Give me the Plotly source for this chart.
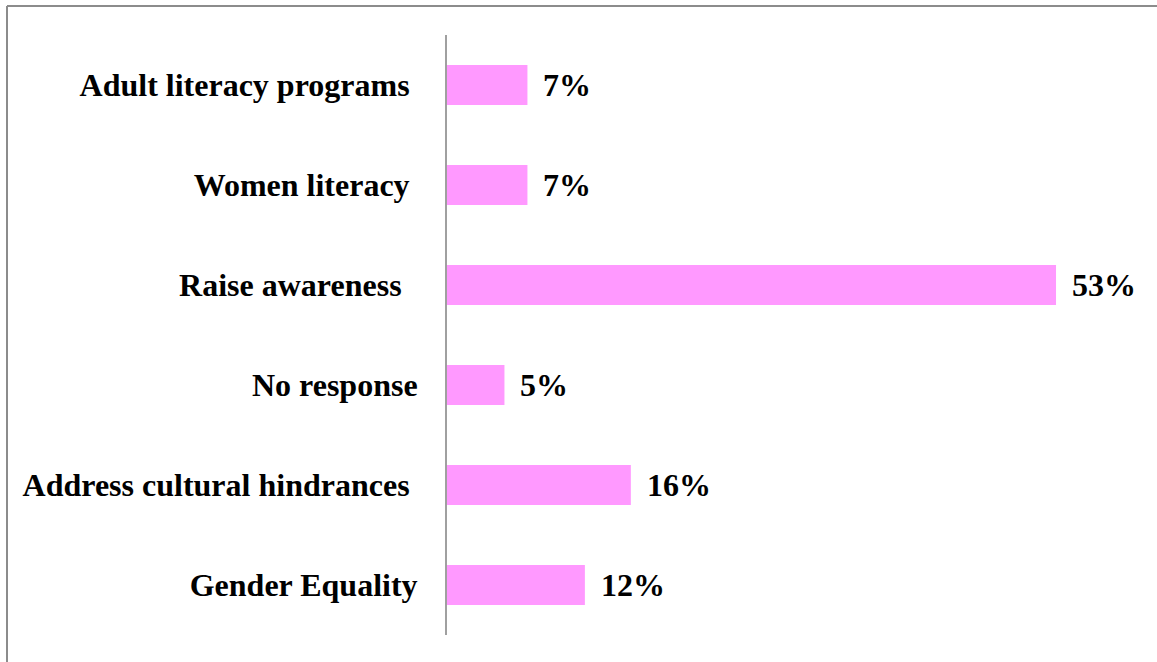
import plotly.graph_objects as go

# categories listed bottom to top, as they appear on the chart
categories = ["Gender Equality", "Address cultural hindrances", "No response",
              "Raise awareness", "Women literacy", "Adult literacy programs"]
# trailing spaces in the original labels (number of non-breaking spaces)
label_pad = [0, 1, 0, 2, 1, 1]
values = [12, 16, 5, 53, 7, 7]
value_labels = ["12%", "16%", "5%", "53%", "7%", "7%"]

FONT = dict(family="Liberation Serif, Times New Roman, serif", size=32, color="#000000")

W, H = 1157, 662
ml, mr, mt, mb = 447, 78, 35, 27

fig = go.Figure()
fig.add_trace(go.Bar(
    y=categories, x=values, orientation="h",
    marker=dict(color="#FF99FF", line=dict(width=0)),
    hoverinfo="skip",
))

# value labels to the right of each bar
for c, v, t in zip(categories, values, value_labels):
    fig.add_annotation(x=v, y=c, xref="x", yref="y", text="<b>" + t + "</b>",
                       showarrow=False, xanchor="left", xshift=14, font=FONT)

ticktext = ["<b>" + c + "\u00a0" * p + "</b>" for c, p in zip(categories, label_pad)]

pw = W - ml - mr
ph = H - mt - mb
# outer chart border: only the top and left edges fall inside the picture
bx = (7 - ml) / pw
by = (H - mb - 6) / ph
border = dict(color="#8C8C8C", width=2)
fig.add_shape(type="line", xref="paper", yref="paper",
              x0=bx, x1=(W - ml) / pw + 0.01, y0=by, y1=by, line=border, layer="below")
fig.add_shape(type="line", xref="paper", yref="paper",
              x0=bx, x1=bx, y0=-mb / ph - 0.01, y1=by, line=border, layer="below")

fig.update_layout(
    width=W, height=H,
    margin=dict(l=ml, r=mr, t=mt, b=mb, pad=0),
    paper_bgcolor="white", plot_bgcolor="white",
    bargap=0.6, showlegend=False, font=FONT,
    xaxis=dict(range=[0, 55], visible=False, fixedrange=True),
    yaxis=dict(
        categoryorder="array", categoryarray=categories,
        tickmode="array", tickvals=categories, ticktext=ticktext,
        showline=True, linecolor="#A0A0A0", linewidth=2,
        showgrid=False, zeroline=False, ticks="",
        ticklabelstandoff=21, tickfont=FONT, fixedrange=True,
    ),
)

fig.write_html("out.html", config={"displayModeBar": False},
               post_script="document.body.style.margin='0';"
                           "document.body.style.overflow='hidden';")
